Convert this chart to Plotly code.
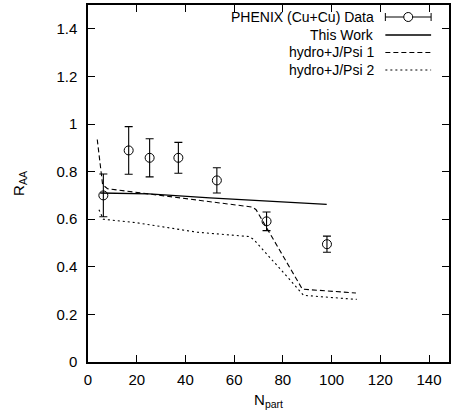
import plotly.graph_objects as go

# ---- data ----
phenix_npart = [6.3, 16.7, 25.3, 37.1, 52.9, 73.3, 98.1]
phenix_raa = [0.700, 0.889, 0.858, 0.858, 0.763, 0.591, 0.495]
phenix_err = [0.090, 0.100, 0.080, 0.065, 0.053, 0.039, 0.034]

work_npart = [5.0, 25.0, 50.0, 74.0, 98.0]
work_raa = [0.710, 0.706, 0.690, 0.676, 0.662]

hydro1_npart = [3.8, 6.0, 8.0, 20.0, 45.0, 67.5, 69.0, 85.2, 88.0, 110.0]
hydro1_raa = [0.935, 0.745, 0.728, 0.712, 0.680, 0.651, 0.640, 0.351, 0.306, 0.290]

hydro2_npart = [4.5, 6.3, 20.0, 45.0, 66.0, 68.0, 82.4, 88.5, 110.3]
hydro2_raa = [0.640, 0.600, 0.585, 0.545, 0.527, 0.515, 0.351, 0.280, 0.263]

legend_labels = ["PHENIX (Cu+Cu) Data", "This Work", "hydro+J/Psi 1", "hydro+J/Psi 2"]

W, H = 451, 418
ML, MR, MT, MB = 88, 0, 5, 56
FONT = "Liberation Sans, Arial, Helvetica, sans-serif"

fig = go.Figure()
fig.add_trace(go.Scatter(x=hydro1_npart, y=hydro1_raa, mode="lines",
                         line=dict(color="black", width=1.1, dash="5px,3px")))
fig.add_trace(go.Scatter(x=hydro2_npart, y=hydro2_raa, mode="lines",
                         line=dict(color="black", width=1.1, dash="2px,3px")))
fig.add_trace(go.Scatter(x=work_npart, y=work_raa, mode="lines",
                         line=dict(color="black", width=1.3)))
fig.add_trace(go.Scatter(x=phenix_npart, y=phenix_raa, mode="markers",
                         marker=dict(symbol="circle-open", size=9, color="black",
                                     line=dict(width=1)),
                         error_y=dict(type="data", array=phenix_err, visible=True,
                                      color="black", thickness=1.1, width=4)))

# ---- custom gnuplot-style legend (paper coordinates) ----
pw, ph = W - ML - MR, H - MT - MB
def px(x):
    return (x - ML) / pw
def py(y):
    return (H - MB - y) / ph

rows = [17, 35, 52.5, 70]
text_right = 378
s0, s1 = 387, 433
shapes = []
annotations = []
for lab, ry in zip(legend_labels, rows):
    annotations.append(dict(x=px(text_right), y=py(ry), xref="paper", yref="paper",
                            text=lab, showarrow=False, xanchor="right", yanchor="middle",
                            font=dict(family=FONT, size=14, color="black")))
# PHENIX sample: errorbar with circle
shapes.append(dict(type="line", xref="paper", yref="paper", x0=px(s0), x1=px(s1),
                   y0=py(rows[0]), y1=py(rows[0]), line=dict(color="black", width=1)))
for sx in (s0, s1):
    shapes.append(dict(type="line", xref="paper", yref="paper", x0=px(sx), x1=px(sx),
                       y0=py(rows[0] - 4), y1=py(rows[0] + 4), line=dict(color="black", width=1)))
cx = (s0 + s1) / 2
shapes.append(dict(type="circle", xref="paper", yref="paper", x0=px(cx - 4.5), x1=px(cx + 4.5),
                   y0=py(rows[0] - 4.5), y1=py(rows[0] + 4.5),
                   line=dict(color="black", width=1), fillcolor="white"))
shapes.append(dict(type="line", xref="paper", yref="paper", x0=px(s0), x1=px(s1),
                   y0=py(rows[1]), y1=py(rows[1]), line=dict(color="black", width=1.3)))
shapes.append(dict(type="line", xref="paper", yref="paper", x0=px(s0), x1=px(s1),
                   y0=py(rows[2]), y1=py(rows[2]), line=dict(color="black", width=1.1, dash="5px,3px")))
shapes.append(dict(type="line", xref="paper", yref="paper", x0=px(s0), x1=px(s1),
                   y0=py(rows[3]), y1=py(rows[3]), line=dict(color="black", width=1.1, dash="2px,3px")))

axis_common = dict(showgrid=False, zeroline=False, showline=True, linecolor="black",
                   linewidth=1.5, mirror="ticks", ticks="inside", ticklen=7,
                   tickcolor="black", tickwidth=1,
                   tickfont=dict(family=FONT, size=15, color="black"))

fig.update_layout(
    width=W, height=H, margin=dict(l=ML, r=MR, t=MT, b=MB),
    paper_bgcolor="white", plot_bgcolor="white", showlegend=False,
    xaxis=dict(range=[0, 148.2], tickvals=[0, 20, 40, 60, 80, 100, 120, 140],
               ticklabelstandoff=3,
               title=dict(text="N<sub>part</sub>", standoff=8,
                          font=dict(family=FONT, size=15, color="black")),
               **axis_common),
    yaxis=dict(range=[0, 1.5], tickvals=[0, 0.2, 0.4, 0.6, 0.8, 1.0, 1.2, 1.4],
               ticktext=["0", "0.2", "0.4", "0.6", "0.8", "1", "1.2", "1.4"],
               ticklabelstandoff=6,
               title=dict(text="R<sub>AA</sub>", standoff=28,
                          font=dict(family=FONT, size=15, color="black")),
               **axis_common),
    shapes=shapes, annotations=annotations,
)

fig.write_html("out.html")
